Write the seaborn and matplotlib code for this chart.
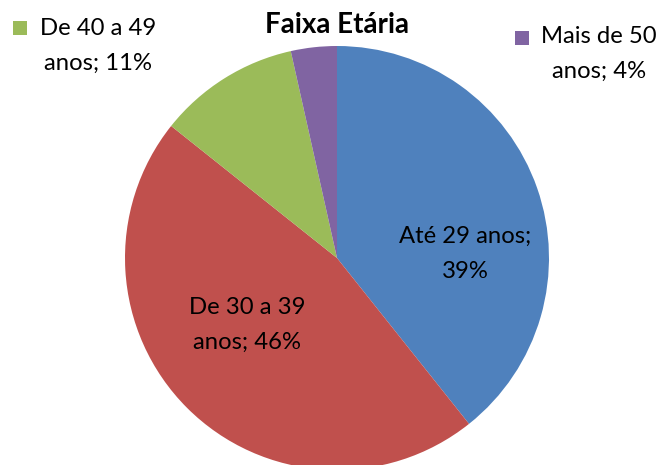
import matplotlib
matplotlib.use("Agg")
import matplotlib.pyplot as plt
import seaborn as sns
from matplotlib.patches import Rectangle

sns.set_theme(style="white")
plt.rcParams['font.family'] = ['Lato', 'DejaVu Sans']

categories = ["Até 29 anos", "De 30 a 39 anos", "De 40 a 49 anos", "Mais de 50 anos"]
values = [39.3, 46.4, 10.8, 3.5]
pct_labels = ["39%", "46%", "11%", "4%"]
colors = ["#4F81BD", "#C0504D", "#9BBB59", "#8064A2"]
title = "Faixa Etária"

W, H = 664, 465
fig = plt.figure(figsize=(W / 100, H / 100), dpi=100)
fig.patch.set_facecolor("white")

cx, cy, r = 337, 258, 212
ax = fig.add_axes([(cx - r) / W, (H - cy - r) / H, 2 * r / W, 2 * r / H])
ax.pie(values, colors=colors, startangle=90, counterclock=False,
       wedgeprops=dict(linewidth=0))
ax.set_xlim(-1, 1)
ax.set_ylim(-1, 1)
ax.set_aspect("equal")
ax.axis("off")

def ftext(x, y, s, fs=17.2, **kw):
    fig.text(x / W, 1 - y / H, s, ha="center", va="center", fontsize=fs,
             color="black", linespacing=1.8, **kw)

ftext(337, 25, title, fs=20, fontweight="bold")
ftext(465, 254, f"Até 29 anos;\n{pct_labels[0]}")
ftext(247, 325, f"De 30 a 39\nanos; {pct_labels[1]}")
ftext(98, 46, f"De 40 a 49\nanos; {pct_labels[2]}")
ftext(599, 54, f"Mais de 50\nanos; {pct_labels[3]}")

for (x0, y0, c) in [(13, 21, colors[2]), (515, 31, colors[3])]:
    fig.patches.append(Rectangle((x0 / W, 1 - (y0 + 14) / H), 14 / W, 14 / H,
                                 transform=fig.transFigure, facecolor=c,
                                 edgecolor="none"))

fig.savefig("out.png", dpi=100)
